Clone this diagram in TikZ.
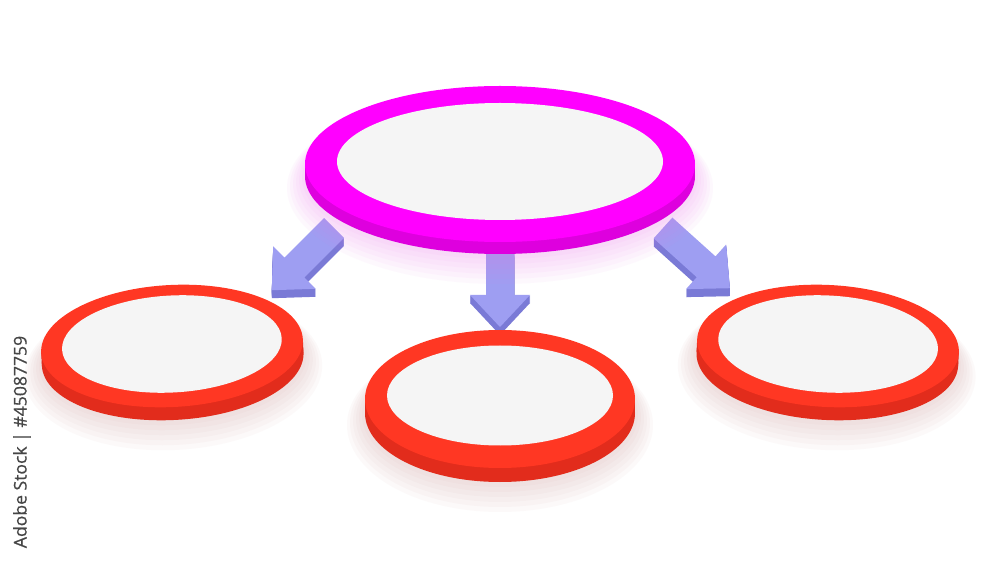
\documentclass[tikz,border=0pt]{standalone}
\usepackage{fontspec}
\newfontfamily\stockfont[FakeBold=0.6]{Open Sans}
\usetikzlibrary{positioning}

\definecolor{magtop}{RGB}{255,0,255}
\definecolor{magside}{RGB}{222,0,222}
\definecolor{magshadow}{RGB}{235,120,235}
\definecolor{redtop}{RGB}{255,55,35}
\definecolor{redside}{RGB}{226,44,28}
\definecolor{redshadow}{RGB}{205,150,150}
\definecolor{innerface}{RGB}{245,245,245}
\definecolor{arrowtop}{RGB}{158,158,242}
\definecolor{arrowside}{RGB}{122,122,214}
\definecolor{stockgray}{RGB}{70,70,70}

\tikzset{
  arrow face/.style={fill=arrowtop},
  arrow body/.style={fill=arrowside},
  shadow ring/.style={fill opacity=0.05}
}

% disc: center, rx, ry, inner rx, inner ry, inner offset, depth, colour, tilt
\newcommand\Disc[9]{%
  \begin{scope}[shift={(#1)}, rotate=#9]
    \foreach \k in {1,...,6}
      \fill[#8shadow, shadow ring] (0,#7+\k*2) ellipse[x radius=#2+\k*3, y radius=#3+\k*3];
    \fill[#8side] (0,#7) ellipse[x radius=#2, y radius=#3];
    \fill[#8side] (-#2,0) rectangle (#2,#7);
    \fill[#8top] (0,0) ellipse[x radius=#2, y radius=#3];
    \fill[innerface] (0,#6) ellipse[x radius=#4, y radius=#5];
  \end{scope}}

\newcommand\ArrowShape[1]{(0,-14) -- (#1-32,-14) -- (#1-32,-30) -- (#1,0) -- (#1-32,30) -- (#1-32,14) -- (0,14) -- cycle}

% arrow: tail, angle, length
\newcommand\FlowArrow[3]{%
  \begin{scope}[shift={(#1)}]
    \foreach \k in {1,...,8}
      \fill[arrow body, shift={(0,\k)}, rotate=#2] \ArrowShape{#3};
    \fill[arrow face, rotate=#2] \ArrowShape{#3};
  \end{scope}}

\begin{document}
\begin{tikzpicture}[x=0.02cm,y=-0.02cm]
	\fill[white] (0,0) rectangle (1000,563);

	\coordinate (boss) at (500,164);
	\coordinate (left) at (172,346);
	\coordinate (mid) at (500,399);
	\coordinate (right) at (828,346);

	\coordinate (tailL) at (334,228);
	\coordinate (tailM) at (500,250);
	\coordinate (tailR) at (663,228);

	\FlowArrow{tailL}{-135}{88}
	\FlowArrow{tailM}{-90}{77}
	\FlowArrow{tailR}{-42}{90}

	\Disc{boss}{195}{78}{163}{58.5}{-2.5}{12}{mag}{0}
	\Disc{left}{131}{61}{110}{48.5}{-2}{13}{red}{3}
	\Disc{mid}{135}{69}{113}{50}{-3.5}{14}{red}{0}
	\Disc{right}{131}{61}{110}{48.5}{-2}{13}{red}{-3}

	\node[rotate=90, text=stockgray, font=\stockfont\fontsize{10}{12}\selectfont] (stock) at (22,442) {Adobe Stock | \#45087759};
\end{tikzpicture}
\end{document}
